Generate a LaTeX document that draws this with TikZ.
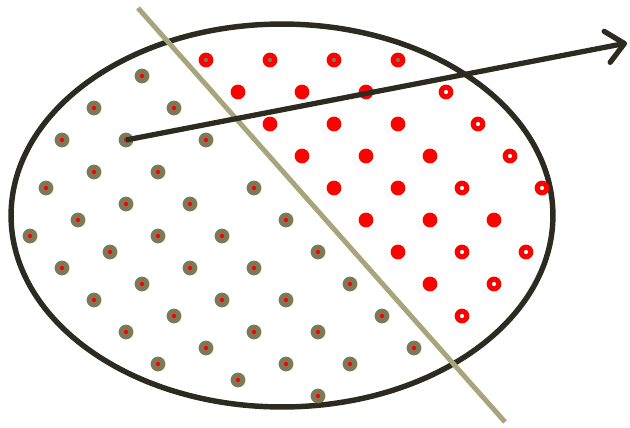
\documentclass[tikz,border=0pt]{standalone}
\usepackage{xcolor}
\usepackage{tikz}
\usetikzlibrary{arrows.meta}
\definecolor{rim}{HTML}{2D2A20}
\definecolor{cut}{HTML}{A8A47C}
\definecolor{moss}{HTML}{7D7857}
\definecolor{hot}{HTML}{FF0000}
\tikzset{
  pt/.style={circle,inner sep=0pt,outer sep=0pt,minimum size=0.296cm},
  core/.style={path picture={\fill[#1] (path picture bounding box.center) circle (0.042cm);}},
  mossdot/.style={pt,fill=moss,core=hot},
  capdot/.style={pt,fill=hot,core=moss},
  ringdot/.style={pt,fill=hot,core=white},
  hotdot/.style={pt,fill=hot},
}
\newcommand{\rimline}{%
  \draw[rim,line width=3.1pt] (282,215.5) ellipse [x radius=5.42cm, y radius=3.83cm];
}
\newcommand{\mossdots}{%
  \foreach \x/\y in {142/76,94/108,174/108,62/140,126/140,206/140,94/172,158/172,
    46/188,254/188,126/204,190/204,78/220,286/220,30/236,158/236,222/236,
    110/252,318/252,62/268,190/268,254/268,142/284,350/284,94/300,222/300,
    286/300,174/316,382/316,126/332,254/332,318/332,206/348,414/348,
    158/364,286/364,350/364,238/380,318/396}
    \node[mossdot] (m\x-\y) at (\x,\y) {};
}
\newcommand{\hotdots}{%
  \foreach \x/\y in {206/60,270/60,334/60,398/60}
    \node[capdot] (c\x-\y) at (\x,\y) {};
  \foreach \x/\y in {238/92,302/92,366/92,270/124,334/124,398/124,302/156,366/156,
    430/156,334/188,398/188,366/220,430/220,494/220,398/252,430/284}
    \node[hotdot] (h\x-\y) at (\x,\y) {};
  \foreach \x/\y in {446/92,478/124,510/156,462/188,542/188,462/252,526/252,
    494/284,462/316}
    \node[ringdot] (r\x-\y) at (\x,\y) {};
}
\newcommand{\cutline}{%
  \coordinate (cutA) at (138,8);
  \coordinate (cutB) at (505,422);
  \draw[cut,line width=2.8pt] (cutA) -- (cutB);
}

\begin{document}
\begin{tikzpicture}[x=0.02cm,y=-0.02cm]
\useasboundingbox (0,0) rectangle (630,427);
\rimline \mossdots \hotdots \cutline
\coordinate (tip) at (627,43);
\draw[rim,line width=3pt,-{Straight Barb[length=10pt,width=18pt,round]}]
  (m126-140.center) -- (tip);
\end{tikzpicture}
\end{document}
